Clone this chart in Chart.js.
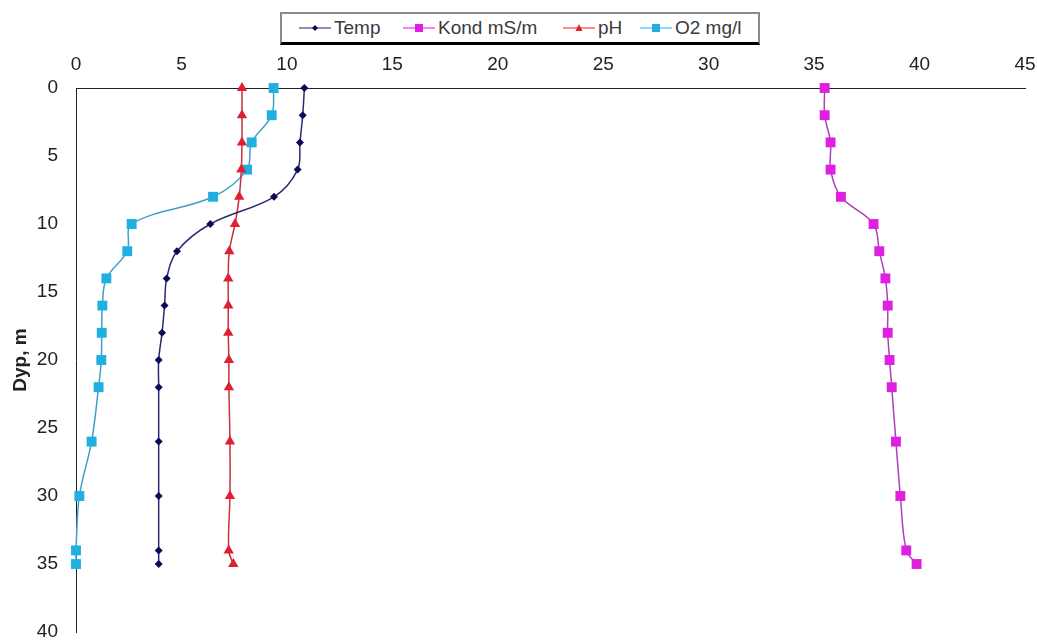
<!DOCTYPE html>
<html><head><meta charset="utf-8">
<script src="https://cdn.jsdelivr.net/npm/chart.js@4/dist/chart.umd.min.js"></script>
<style>
html,body{margin:0;padding:0;background:#fff;}
#wrap{position:relative;width:1037px;height:640px;}
#legend{position:absolute;left:280px;top:12px;width:476px;height:28px;border:2px solid #8a8a8a;border-bottom:3px solid #000;background:#fff;font-family:"Liberation Sans",Arial,sans-serif;font-size:19px;color:#3a3a3a;}
.item{position:absolute;top:0;height:28px;display:flex;align-items:center;}
.item svg{margin-right:3px;}
</style></head>
<body><div id="wrap"><canvas id="c" width="1037" height="640"></canvas>
<div id="legend"></div></div>
<script>
const depths = [0,2,4,6,8,10,12,14,16,18,20,22,26,30,34,35];
const temp   = [10.83,10.75,10.62,10.51,9.39,6.37,4.79,4.3,4.2,4.08,3.92,3.92,3.92,3.92,3.92,3.92];
const kond   = [35.5,35.5,35.78,35.78,36.27,37.82,38.09,38.38,38.49,38.49,38.58,38.68,38.88,39.09,39.37,39.86];
const ph     = [7.87,7.87,7.87,7.84,7.74,7.54,7.27,7.22,7.22,7.22,7.25,7.25,7.3,7.3,7.24,7.46];
const o2     = [9.37,9.28,8.33,8.11,6.5,2.64,2.43,1.44,1.25,1.22,1.2,1.07,0.74,0.16,0,0];
const seriesNames = ["Temp","Kond mS/m","pH","O2 mg/l"];
const xTicks = [0,5,10,15,20,25,30,35,40,45];
const yTicks = [0,5,10,15,20,25,30,35,40];

const styles = [
  {line:"#2a2a70", point:"#0a0a5a", shape:"rectRot", r:4, legLine:"#6a6aaa"},
  {line:"#b040b8", point:"#e020e0", shape:"rect", r:7, legLine:"#ff50ff"},
  {line:"#c83040", point:"#e02030", shape:"triangle", r:6, legLine:"#ff6060"},
  {line:"#40a0c8", point:"#20b0e0", shape:"rect", r:7, legLine:"#60d0ff"}
];
const vals = [temp,kond,ph,o2];
const datasets = vals.map((v,i)=>({
  label: seriesNames[i],
  data: depths.map((d,j)=>({x:v[j], y:d})),
  showLine:true,
  clip:false,
  borderColor: styles[i].line,
  borderWidth: 1.5,
  backgroundColor: styles[i].point,
  pointBackgroundColor: styles[i].point,
  pointBorderColor: styles[i].point,
  pointBorderWidth: 0,
  pointStyle: styles[i].shape,
  pointRadius: styles[i].r,
  tension: 0.35,
  fill:false
}));

const font = {family:'"Liberation Sans", Arial, sans-serif', size:19};
new Chart(document.getElementById('c'), {
  type:'scatter',
  data:{datasets},
  options:{
    responsive:false, animation:false,
    layout:{padding:{left:0,right:12,top:38,bottom:8}},
    plugins:{legend:{display:false}, tooltip:{enabled:false}},
    scales:{
      x:{type:'linear', position:'top', min:0, max:45,
        afterBuildTicks:s=>{s.ticks = xTicks.map(v=>({value:v}));},
        afterFit:s=>{s.height=50; s.paddingLeft=0; s.paddingRight=0;},
        grid:{display:false, drawTicks:false},
        border:{display:true, color:'#222', width:1},
        ticks:{font, color:'#222', padding:12, maxRotation:0}},
      y:{type:'linear', reverse:true, min:0, max:40,
        afterBuildTicks:s=>{s.ticks = yTicks.map(v=>({value:v}));},
        afterFit:s=>{s.width=76; s.paddingTop=0; s.paddingBottom=0;},
        grid:{display:false, drawTicks:false},
        border:{display:true, color:'#222', width:1},
        title:{display:true, text:'Dyp, m', font:{family:font.family, size:19, weight:'bold'}, color:'#222', padding:{top:9,bottom:0}},
        ticks:{font, color:'#222', padding:18}}
    }
  }
});

// HTML legend
const leg = document.getElementById('legend');
const lefts = [17, 121, 281, 358];
seriesNames.forEach((n,i)=>{
  const it = document.createElement('div');
  it.className='item'; it.style.left=lefts[i]+'px';
  const st = styles[i];
  let m='';
  if(st.shape==='rectRot') m='<polygon points="16,10 19,13 16,16 13,13" fill="'+st.point+'"/>';
  else if(st.shape==='rect') m='<rect x="12" y="9" width="8" height="8" fill="'+st.point+'"/>';
  else m='<polygon points="16,9 19.5,16 12.5,16" fill="'+st.point+'"/>';
  it.innerHTML='<svg width="32" height="26"><line x1="0" y1="13" x2="32" y2="13" stroke="'+st.legLine+'" stroke-width="1.5"/>'+m+'</svg><span>'+n+'</span>';
  leg.appendChild(it);
});
</script></body></html>
